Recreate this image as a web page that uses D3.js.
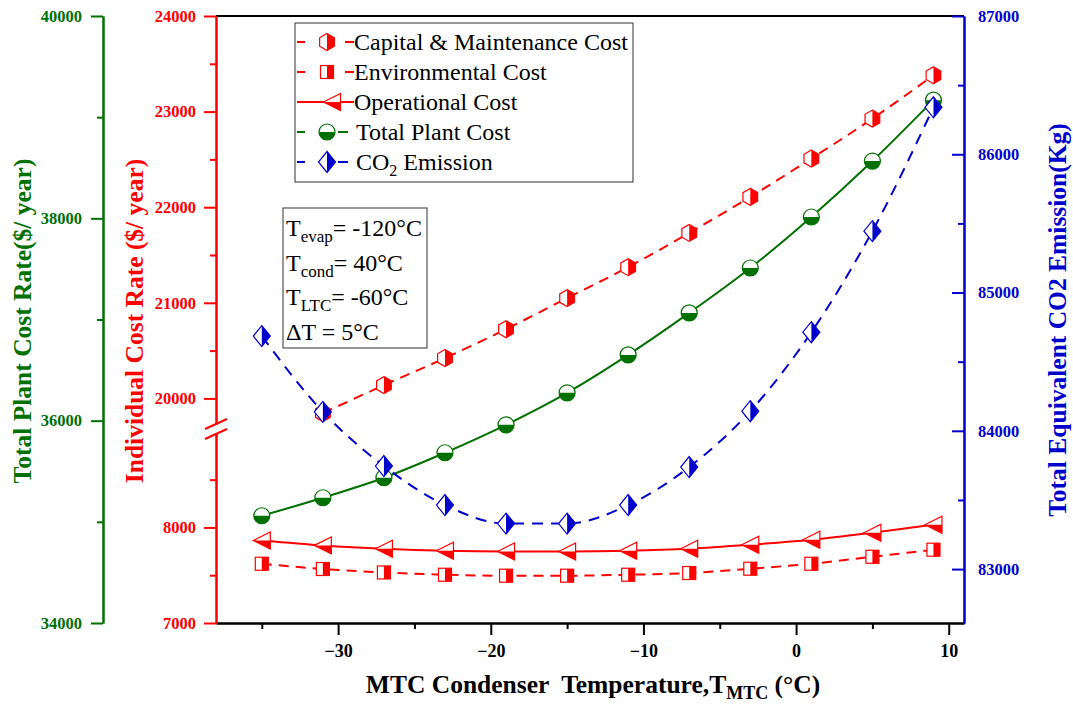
<!DOCTYPE html>
<html>
<head>
<meta charset="utf-8">
<script src="https://cdnjs.cloudflare.com/ajax/libs/d3/7.8.5/d3.min.js"></script>
<style>
  body { margin: 0; background: #fff; }
  text { font-family: "Liberation Serif", "Times New Roman", serif; }
  .tick text { font-weight: bold; font-size: 16.5px; }
  .xaxis .tick text { font-size: 18px; }
</style>
</head>
<body>
<div id="chart"></div>
<script>
// data
var temps = [-35, -31, -27, -23, -19, -15, -11, -7, -3, 1, 5, 9];
var capitalTemps = temps.slice(1); // first point hidden inside the axis break
var capitalCost = [19846, 20139, 20422, 20724, 21049, 21373, 21731, 22108, 22509, 22927, 23380];
var envCost = [7620, 7565, 7529, 7505, 7495, 7495, 7505, 7523, 7568, 7620, 7693, 7767];
var opCost = [7864, 7812, 7777, 7756, 7749, 7749, 7756, 7777, 7819, 7871, 7945, 8028];
var totalCost = [35060, 35238, 35436, 35683, 35959, 36275, 36650, 37065, 37509, 38013, 38566, 39168];
var co2 = [84685, 84137, 83745, 83463, 83329, 83329, 83463, 83738, 84142, 84713, 85444, 86340];

var xTicks = [-30, -20, -10, 0, 10];
var xMinor = [-35, -25, -15, -5, 5];
var redTicks = [7000, 8000, 20000, 21000, 22000, 23000, 24000];
var redMinor = [7500, 8500, 20500, 21500, 22500, 23500];
var greenTicks = [34000, 36000, 38000, 40000];
var greenMinor = [35000, 37000, 39000];
var blueTicks = [83000, 84000, 85000, 86000, 87000];
var blueMinor = [83500, 84500, 85500, 86500];

var W = 1073, H = 704;
var plotLeft = 216, plotRight = 964, plotTop = 16, plotBottom = 623;
var breakY = 429;

var svg = d3.select("#chart").append("svg")
    .attr("width", W)
    .attr("height", H);

var x = d3.scaleLinear().domain([-38, 11]).range([plotLeft, plotRight]);
// broken red axis: 7000-9030 below the break, 19680-24000 above it
var yRed = d3.scaleLinear()
    .domain([7000, 9030, 19680, 24000])
    .range([plotBottom, breakY, breakY, plotTop]);
var yGreen = d3.scaleLinear().domain([34000, 40000]).range([plotBottom, plotTop]);
var yBlue = d3.scaleLinear().domain([82610, 87000]).range([plotBottom, plotTop]);

var RED = "#ff0000", GREEN = "#007000", BLUE = "#0000cc";

function styleAxis(g, color) {
    g.attr("font-family", null).attr("font-size", null);
    g.select(".domain").attr("stroke", color).attr("stroke-width", 2);
    g.selectAll(".tick line").attr("stroke", color).attr("stroke-width", 2);
    g.selectAll(".tick text").attr("fill", color)
        .attr("font-family", "'Liberation Serif', 'Times New Roman', serif");
}

// top frame
svg.append("line")
    .attr("x1", plotLeft).attr("x2", plotRight)
    .attr("y1", plotTop).attr("y2", plotTop)
    .attr("stroke", "#000").attr("stroke-width", 2);

// x axis
var xAxis = svg.append("g")
    .attr("class", "xaxis")
    .attr("transform", "translate(0," + plotBottom + ")")
    .call(d3.axisBottom(x).tickValues(xTicks).tickSize(12).tickSizeOuter(0).tickPadding(9));
styleAxis(xAxis, "#000");
var xAxisMinor = svg.append("g")
    .attr("transform", "translate(0," + plotBottom + ")")
    .call(d3.axisBottom(x).tickValues(xMinor).tickSize(6).tickSizeOuter(0).tickFormat(""));
styleAxis(xAxisMinor, "#000");

// red axis (left inner)
var redAxis = svg.append("g")
    .attr("transform", "translate(" + plotLeft + ",0)")
    .call(d3.axisLeft(yRed).tickValues(redTicks).tickSize(12).tickSizeOuter(0)
        .tickPadding(8).tickFormat(d3.format("d")));
styleAxis(redAxis, RED);
var redMinorAxis = svg.append("g")
    .attr("transform", "translate(" + plotLeft + ",0)")
    .call(d3.axisLeft(yRed).tickValues(redMinor).tickSize(6).tickSizeOuter(0).tickFormat(""));
styleAxis(redMinorAxis, RED);

// axis break marks
svg.append("rect")
    .attr("x", plotLeft - 3).attr("y", breakY - 4)
    .attr("width", 6).attr("height", 8)
    .attr("fill", "#fff");
[-5, 5].forEach(function(d) {
    svg.append("line")
        .attr("x1", plotLeft - 11).attr("y1", breakY + d + 5)
        .attr("x2", plotLeft + 11).attr("y2", breakY + d - 5)
        .attr("stroke", RED).attr("stroke-width", 2);
});

// green axis (far left)
var greenX = 103;
var greenAxis = svg.append("g")
    .attr("transform", "translate(" + greenX + ",0)")
    .call(d3.axisLeft(yGreen).tickValues(greenTicks).tickSize(12).tickSizeOuter(0)
        .tickPadding(9).tickFormat(d3.format("d")));
styleAxis(greenAxis, GREEN);
var greenMinorAxis = svg.append("g")
    .attr("transform", "translate(" + greenX + ",0)")
    .call(d3.axisLeft(yGreen).tickValues(greenMinor).tickSize(6).tickSizeOuter(0).tickFormat(""));
styleAxis(greenMinorAxis, GREEN);

// blue axis (right), ticks point inward
var blueAxis = svg.append("g")
    .attr("transform", "translate(" + plotRight + ",0)")
    .call(d3.axisRight(yBlue).tickValues(blueTicks).tickSize(-12).tickSizeOuter(0)
        .tickPadding(14).tickFormat(d3.format("d")));
styleAxis(blueAxis, BLUE);
var blueMinorAxis = svg.append("g")
    .attr("transform", "translate(" + plotRight + ",0)")
    .call(d3.axisRight(yBlue).tickValues(blueMinor).tickSize(-6).tickSizeOuter(0).tickFormat(""));
styleAxis(blueMinorAxis, BLUE);

// axis titles
function vTitle(cx, cy, txt, color) {
    svg.append("text")
        .attr("transform", "translate(" + cx + "," + cy + ") rotate(-90)")
        .attr("text-anchor", "middle")
        .attr("dy", "0.35em")
        .attr("font-weight", "bold")
        .attr("font-size", "25.5px")
        .attr("fill", color)
        .text(txt);
}
vTitle(22, 321, "Total Plant Cost Rate($/ year)", GREEN);
vTitle(134, 321, "Individual Cost Rate ($/ year)", RED);
vTitle(1057, 320, "Total Equivalent CO2 Emission(Kg)", BLUE);

var xt = svg.append("text")
    .attr("x", 593).attr("y", 693)
    .attr("text-anchor", "middle")
    .attr("font-weight", "bold")
    .attr("font-size", "25.5px")
    .style("white-space", "pre")
    .attr("fill", "#000");
xt.append("tspan").text("MTC Condenser  Temperature,T");
xt.append("tspan").attr("dy", 6).attr("font-size", "18px").text("MTC");
xt.append("tspan").attr("dy", -6).text(" (\u00b0C)");

// marker shapes: outline in white, half filled with the series colour
var markers = {
    hex: function(g, c) {
        var r = 8.5, a = r * 0.866;
        g.append("path").attr("d", "M0," + (-r) + "L" + a + "," + (-r / 2) + "L" + a + "," + (r / 2) +
            "L0," + r + "L" + (-a) + "," + (r / 2) + "L" + (-a) + "," + (-r / 2) + "Z")
            .attr("fill", "#fff").attr("stroke", c).attr("stroke-width", 1.2);
        g.append("path").attr("d", "M0," + (-r) + "L" + a + "," + (-r / 2) + "L" + a + "," + (r / 2) + "L0," + r + "Z")
            .attr("fill", c);
    },
    square: function(g, c) {
        var s = 6.5;
        g.append("rect").attr("x", -s).attr("y", -s).attr("width", 2 * s).attr("height", 2 * s)
            .attr("fill", "#fff").attr("stroke", c).attr("stroke-width", 1.2);
        g.append("rect").attr("x", 0).attr("y", -s).attr("width", s).attr("height", 2 * s)
            .attr("fill", c);
    },
    triLeft: function(g, c) {
        var s = 8.5;
        g.append("path").attr("d", "M" + (-s) + ",0L" + s + "," + (-s) + "L" + s + "," + s + "Z")
            .attr("fill", "#fff").attr("stroke", c).attr("stroke-width", 1.2);
        g.append("path").attr("d", "M" + (-s) + ",0L" + s + ",0L" + s + "," + s + "Z")
            .attr("fill", c);
    },
    circle: function(g, c) {
        var r = 8;
        g.append("circle").attr("r", r)
            .attr("fill", "#fff").attr("stroke", c).attr("stroke-width", 1.2);
        g.append("path").attr("d", "M" + (-r) + ",0A" + r + "," + r + " 0 0,0 " + r + ",0Z")
            .attr("fill", c);
    },
    diamond: function(g, c) {
        var w = 8.5, h = 10.5;
        g.append("path").attr("d", "M0," + (-h) + "L" + w + ",0L0," + h + "L" + (-w) + ",0Z")
            .attr("fill", "#fff").attr("stroke", c).attr("stroke-width", 1.2);
        g.append("path").attr("d", "M0," + (-h) + "L" + w + ",0L0," + h + "Z")
            .attr("fill", c);
    }
};

var series = [
    { name: "Capital & Maintenance Cost", xs: capitalTemps, ys: capitalCost, scale: yRed, color: RED, dash: "10,7", marker: "hex" },
    { name: "Environmental Cost", xs: temps, ys: envCost, scale: yRed, color: RED, dash: "10,7", marker: "square" },
    { name: "Operational Cost", xs: temps, ys: opCost, scale: yRed, color: RED, dash: null, marker: "triLeft" },
    { name: "Total Plant Cost", xs: temps, ys: totalCost, scale: yGreen, color: GREEN, dash: null, marker: "circle" },
    { name: "CO2 Emission", xs: temps, ys: co2, scale: yBlue, color: BLUE, dash: "11,8", marker: "diamond" }
];

series.forEach(function(s) {
    var pts = s.xs.map(function(t, i) { return [t, s.ys[i]]; });
    var line = d3.line()
        .x(function(d) { return x(d[0]); })
        .y(function(d) { return s.scale(d[1]); })
        .curve(d3.curveMonotoneX);
    svg.append("path")
        .datum(pts)
        .attr("d", line)
        .attr("fill", "none")
        .attr("stroke", s.color)
        .attr("stroke-width", 2)
        .attr("stroke-dasharray", s.dash);
    s.pts = pts;
});

series.forEach(function(s) {
    svg.append("g").selectAll("g")
        .data(s.pts)
        .enter()
        .append("g")
        .attr("transform", function(d) { return "translate(" + x(d[0]) + "," + s.scale(d[1]) + ")"; })
        .each(function() { markers[s.marker](d3.select(this), s.color); });
});

// legend
var leg = svg.append("g");
leg.append("rect")
    .attr("x", 295).attr("y", 23).attr("width", 338).attr("height", 159)
    .attr("fill", "#fff").attr("stroke", "#333").attr("stroke-width", 1);
series.forEach(function(s, i) {
    var cy = 42 + i * 30;
    var g = leg.append("g");
    if (s.marker === "triLeft") {
        g.append("line").attr("x1", 297).attr("x2", 354).attr("y1", cy).attr("y2", cy)
            .attr("stroke", s.color).attr("stroke-width", 2);
    } else {
        g.append("line").attr("x1", 297).attr("x2", 305).attr("y1", cy).attr("y2", cy)
            .attr("stroke", s.color).attr("stroke-width", 2);
        g.append("line").attr("x1", i < 2 ? 345 : 338).attr("x2", i < 2 ? 354 : 348).attr("y1", cy).attr("y2", cy)
            .attr("stroke", s.color).attr("stroke-width", 2);
    }
    var mg = g.append("g").attr("transform", "translate(" + (s.marker === "triLeft" ? 332 : 327) + "," + cy + ")");
    markers[s.marker](mg, s.color);
    var t = g.append("text")
        .attr("x", s.marker === "circle" || s.marker === "diamond" ? 356 : 354)
        .attr("y", cy + 8)
        .attr("font-size", "24px")
        .attr("fill", "#000");
    if (s.marker === "diamond") {
        t.append("tspan").text("CO");
        t.append("tspan").attr("dy", 6).attr("font-size", "16px").text("2");
        t.append("tspan").attr("dy", -6).text(" Emission");
    } else {
        t.text(s.name);
    }
});

// conditions box
var note = svg.append("g");
note.append("rect")
    .attr("x", 283).attr("y", 208).attr("width", 144).attr("height", 140)
    .attr("fill", "#fff").attr("stroke", "#333").attr("stroke-width", 1);
var noteLines = [["T", "evap", "= -120\u00b0C"], ["T", "cond", "= 40\u00b0C"], ["T", "LTC", "= -60\u00b0C"], ["\u0394T = 5\u00b0C", "", ""]];
noteLines.forEach(function(l, i) {
    var t = note.append("text")
        .attr("x", 286).attr("y", 236 + i * 34.5)
        .attr("font-size", "24px")
        .attr("fill", "#000");
    t.append("tspan").text(l[0]);
    if (l[1]) {
        t.append("tspan").attr("dy", 6).attr("font-size", "17px").text(l[1]);
        t.append("tspan").attr("dy", -6).text(l[2]);
    }
});
</script>
</body>
</html>
